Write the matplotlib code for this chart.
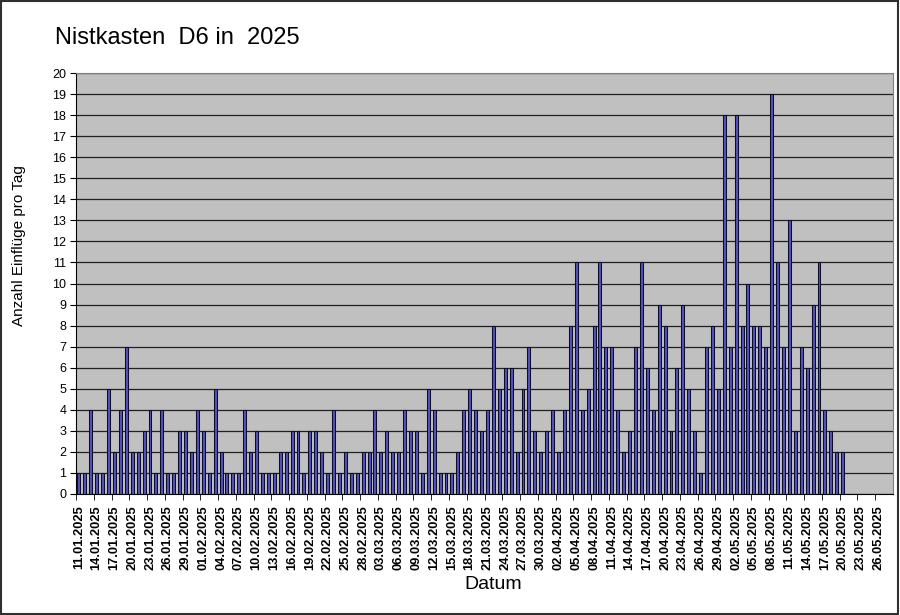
import numpy as np
import pandas as pd
import matplotlib
matplotlib.use("Agg")
import matplotlib.pyplot as plt
from matplotlib.patches import Rectangle

plt.rcParams['font.family'] = ['Liberation Sans', 'DejaVu Sans']

# Einflüge pro Tag, 11.01.2025 - 20.05.2025
jan = [1, 1, 4, 1, 1, 5, 2, 4, 7, 2, 2, 3, 4, 1, 4, 1, 1, 3, 3, 2, 4]
feb = [3, 1, 5, 2, 1, 1, 1, 4, 2, 3, 1, 1, 1, 2, 2, 3, 3, 1, 3, 3, 2, 1, 4, 1, 2, 1, 1, 2]
mar = [2, 4, 2, 3, 2, 2, 4, 3, 3, 1, 5, 4, 1, 1, 1, 2, 4, 5, 4, 3, 4, 8, 5, 6, 6, 2, 5, 7, 3, 2, 3]
apr = [4, 2, 4, 8, 11, 4, 5, 8, 11, 7, 7, 4, 2, 3, 7, 11, 6, 4, 9, 8, 3, 6, 9, 5, 3, 1, 7, 8, 5, 18]
mai = [7, 18, 8, 10, 8, 8, 7, 19, 11, 7, 13, 3, 7, 6, 9, 11, 4, 3, 2, 2]

werte = jan + feb + mar + apr + mai
tage = pd.date_range("2025-01-11", "2025-05-28", freq="D")
labels = [d.strftime("%d.%m.%Y") for d in tage]

fig = plt.figure(figsize=(9, 6.15), dpi=100)
ax = fig.add_axes([76/900, 1-494/615, 817/900, 421/615])
ax.set_facecolor('#c0c0c0')

x = np.arange(len(tage))
ax.bar(x[:len(werte)], werte, width=0.5, color='#5252b8', edgecolor='#0c0c2c',
       linewidth=0.75, zorder=3)

ax.set_xlim(-0.5, len(tage) - 0.5)
ax.set_ylim(0, 20)
ax.set_yticks(range(0, 21))
ax.yaxis.grid(True, color='#202020', linewidth=0.9, zorder=1)
ax.tick_params(axis='y', labelsize=9, length=4, direction='out', pad=3)

ax.set_xticks(x[::3])
ax.set_xticklabels(labels[::3], rotation=90, fontsize=9.3, fontweight='semibold')
ax.set_xticks(x[::3] - 0.5, minor=True)
ax.tick_params(axis='x', which='major', length=0, pad=8)
ax.tick_params(axis='x', which='minor', length=4, direction='out')

for s in ['top', 'right']:
    ax.spines[s].set_color('#808080')
for s in ['left', 'bottom']:
    ax.spines[s].set_color('black')

ax.set_xlabel("Datum", fontsize=14)
ax.xaxis.set_label_coords((493-76)/817, (494-576)/421)
ax.set_ylabel("Anzahl Einflüge pro Tag", fontsize=11)
ax.yaxis.set_label_coords(-(76-26)/817, (494-246)/421)

fig.text(55/900, 1-44/615, "Nistkasten  D6 in  2025", fontsize=17, va='baseline')

fig.patches.append(Rectangle((0.001, 0.001), 0.997, 0.997, transform=fig.transFigure,
                             fill=False, edgecolor='#303030', linewidth=1.5))

fig.savefig("out.png", dpi=100)
